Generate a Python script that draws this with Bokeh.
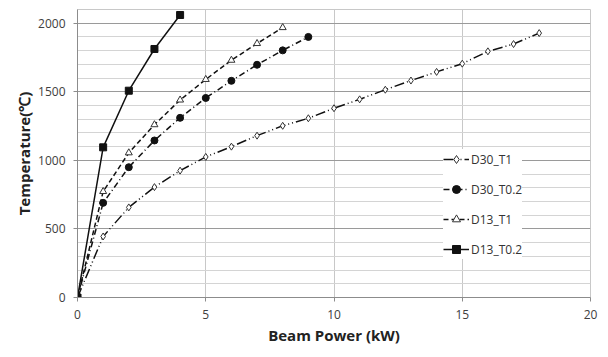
from bokeh.plotting import figure
from bokeh.models import Range1d, SingleIntervalTicker, Legend, LegendItem, Grid
from bokeh.embed import file_html
from bokeh.resources import INLINE

# ---- data ----
x_d30_t1 = list(range(0, 19))
y_d30_t1 = [0, 445, 657, 805, 925, 1025, 1100, 1180, 1252, 1307, 1380, 1445, 1515, 1582, 1645, 1705, 1795, 1848, 1928]

x_d30_t02 = list(range(0, 10))
y_d30_t02 = [0, 690, 950, 1145, 1310, 1455, 1580, 1697, 1802, 1900]

x_d13_t1 = list(range(0, 9))
y_d13_t1 = [0, 773, 1055, 1260, 1440, 1590, 1730, 1852, 1968]

x_d13_t02 = list(range(0, 5))
y_d13_t02 = [0, 1095, 1508, 1812, 2060]

series_names = ["D30_T1", "D30_T0.2", "D13_T1", "D13_T0.2"]
x_ticks = [0, 5, 10, 15, 20]

FONT = "Open Sans"

p = figure(width=608, height=357, output_backend="svg", toolbar_location=None,
           x_range=Range1d(0, 20), y_range=Range1d(0, 2100),
           min_border_left=77, min_border_right=18, min_border_top=9, min_border_bottom=60)
p.background_fill_color = "white"
p.border_fill_color = "white"
p.outline_line_color = "#c8c8c8"

# axes
p.xaxis.ticker = x_ticks
p.yaxis.ticker = SingleIntervalTicker(interval=500)
for ax in (p.xaxis[0], p.yaxis[0]):
    ax.axis_line_color = "#8c8c8c"
    ax.major_tick_line_color = "#8c8c8c"
    ax.major_tick_out = 4
    ax.major_tick_in = 0
    ax.minor_tick_line_color = None
    ax.major_label_text_font = FONT
    ax.major_label_text_font_size = "12px"
    ax.major_label_text_color = "#404040"
    ax.axis_label_text_font = FONT
    ax.axis_label_text_font_style = "bold"
    ax.axis_label_text_font_size = "15px"
    ax.axis_label_text_color = "#222222"
p.xaxis.axis_label = "Beam Power (kW)"
p.yaxis.axis_label = "Temperature(\u2103)"
p.xaxis.major_label_standoff = 8
p.xaxis.axis_label_standoff = 3
p.yaxis.major_label_standoff = 8
p.yaxis.axis_label_standoff = 1

# grids
p.xgrid.ticker = x_ticks
p.xgrid.grid_line_color = "#c8c8c8"
p.ygrid.ticker = SingleIntervalTicker(interval=100)
p.ygrid.grid_line_color = "#d4d4d4"
p.add_layout(Grid(dimension=1, ticker=SingleIntervalTicker(interval=500),
                  grid_line_color="#9a9a9a"))

LC = "#111111"
r1l = p.line(x_d30_t1, y_d30_t1, line_color=LC, line_width=1.5, line_dash="10 3 1 3 1 3")
r1m = p.scatter(x_d30_t1, y_d30_t1, marker="diamond", size=7, line_color="#333333",
                fill_color="white", line_width=1)
r2l = p.line(x_d30_t02, y_d30_t02, line_color=LC, line_width=1.5, line_dash="6 3 1 3")
r2m = p.scatter(x_d30_t02, y_d30_t02, marker="circle", size=7, line_color=LC, fill_color=LC)
r3l = p.line(x_d13_t1, y_d13_t1, line_color=LC, line_width=1.5, line_dash="5 3")
r3m = p.scatter(x_d13_t1, y_d13_t1, marker="triangle", size=7, line_color="#333333",
                fill_color="white", line_width=1)
r4l = p.line(x_d13_t02, y_d13_t02, line_color=LC, line_width=1.5)
r4m = p.scatter(x_d13_t02, y_d13_t02, marker="square", size=7, line_color=LC, fill_color=LC)

legend = Legend(items=[
    LegendItem(label=series_names[0], renderers=[r1l, r1m]),
    LegendItem(label=series_names[1], renderers=[r2l, r2m]),
    LegendItem(label=series_names[2], renderers=[r3l, r3m]),
    LegendItem(label=series_names[3], renderers=[r4l, r4m]),
], location=(366, 38))
legend.background_fill_color = "white"
legend.background_fill_alpha = 1.0
legend.border_line_color = None
legend.label_text_font = FONT
legend.label_text_font_size = "12px"
legend.label_text_color = "#333333"
legend.glyph_width = 26
legend.glyph_height = 20
legend.label_height = 20
legend.spacing = 10
legend.padding = 10
legend.margin = 0
legend.label_standoff = 2
p.add_layout(legend, "center")

open("out.html", "w").write(file_html(p, INLINE))
